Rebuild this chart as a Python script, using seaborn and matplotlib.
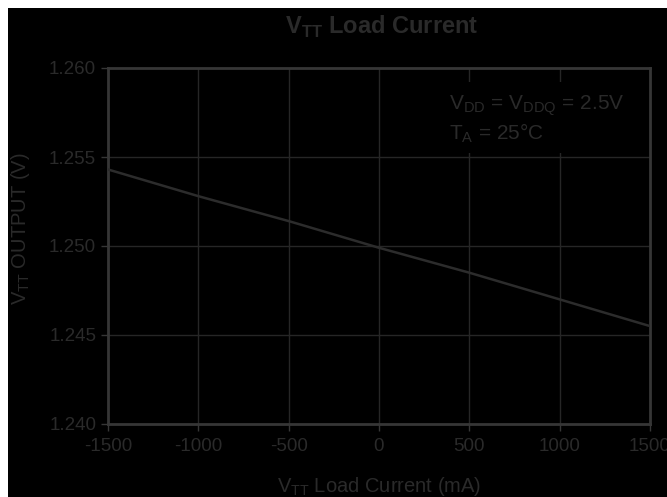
import matplotlib
matplotlib.use("Agg")
import matplotlib.pyplot as plt
import seaborn as sns
import pandas as pd
from matplotlib.patches import Rectangle

# values
current_ma = [-1500, -1000, -500, 0, 500, 1000, 1500]
vtt_out = [1.2543, 1.2528, 1.2514, 1.2499, 1.2485, 1.2470, 1.2455]
x_ticks = [-1500, -1000, -500, 0, 500, 1000, 1500]
y_ticks = [1.240, 1.245, 1.250, 1.255, 1.260]

data = pd.DataFrame({"current": current_ma, "vtt": vtt_out})

sns.set_style("white")
plt.rcParams["font.family"] = ["Liberation Sans", "DejaVu Sans"]
plt.rcParams["mathtext.fontset"] = "custom"
plt.rcParams["mathtext.rm"] = "Liberation Sans"
plt.rcParams["mathtext.bf"] = "Liberation Sans:bold"

txt = "#2a2a2a"
grid = "#262626"
spine = "#363636"

fig = plt.figure(figsize=(6.67, 4.97), dpi=100, facecolor="white")
fig.patches.append(Rectangle((8 / 667, 0), 1, 1 - 8 / 497, transform=fig.transFigure,
                             facecolor="black", edgecolor="none", zorder=-10))
ax = fig.add_axes([108 / 667, 1 - 424 / 497, 542 / 667, 356 / 497])
ax.set_facecolor("black")

sns.lineplot(x="current", y="vtt", data=data, ax=ax, color="#2c2c2c", linewidth=1.8, zorder=3)

ax.set_xlim(-1500, 1500)
ax.set_ylim(1.240, 1.260)
ax.set_xticks(x_ticks)
ax.set_yticks(y_ticks)
ax.set_xticklabels([str(v) for v in x_ticks])
ax.set_yticklabels(["%.3f" % v for v in y_ticks])
ax.grid(True, color=grid, linewidth=1.0)
ax.set_axisbelow(True)
for s in ax.spines.values():
    s.set_color(spine)
    s.set_linewidth(2)
ax.tick_params(axis="both", colors=spine, labelcolor=txt, labelsize=13.5,
               direction="out", length=5, width=1, bottom=True, left=True)
ax.tick_params(axis="x", pad=5)

ax.set_xlabel(r"V$_\mathregular{TT}$ Load Current (mA)", color=txt, fontsize=14.5)
ax.xaxis.set_label_coords(0.5, -0.143)
ax.set_ylabel(r"V$_\mathregular{TT}$ OUTPUT (V)", color=txt, fontsize=14.5)
ax.yaxis.set_label_coords(-0.140, 0.55)
fig.text(0.573, 0.945, r"V$_\mathbf{TT}$ Load Current", color=txt, fontsize=17,
         fontweight="bold", ha="center", va="center")

ax.text(0.63, 0.93, r"V$_\mathregular{DD}$ = V$_\mathregular{DDQ}$ = 2.5V" + "\n" + r"T$_\mathregular{A}$ = 25°C",
        transform=ax.transAxes, color=txt, fontsize=15, va="top", ha="left", linespacing=1.2,
        bbox=dict(facecolor="black", edgecolor="none", pad=6), zorder=4)

fig.savefig("out.png", dpi=100, facecolor=fig.get_facecolor())
